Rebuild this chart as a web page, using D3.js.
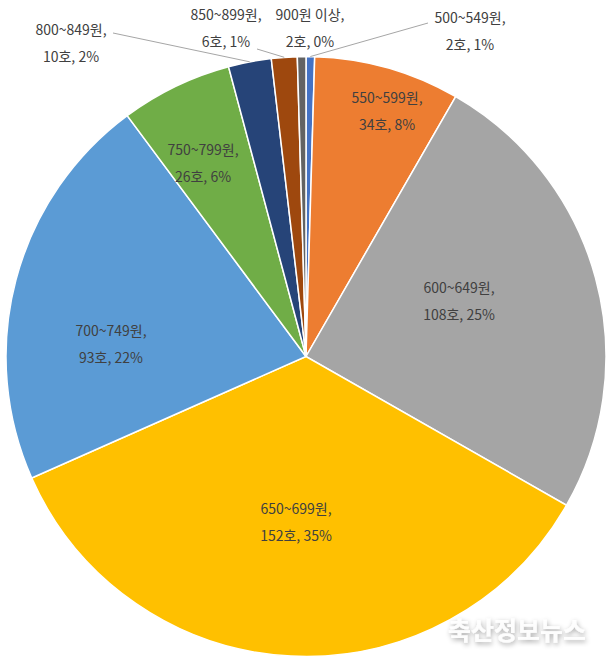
<!DOCTYPE html>
<html>
<head>
<meta charset="utf-8">
<script src="https://cdn.jsdelivr.net/npm/d3@7"></script>
<style>
  body { margin: 0; background: #fff; }
  text { font-family: "Noto Sans CJK KR", "Noto Sans", sans-serif; }
</style>
</head>
<body>
<div id="vis"></div>
<script>
const FRAME_WIDTH = 610;
const FRAME_HEIGHT = 661;
const CX = 306, CY = 356.5, RADIUS = 300;

// data
const categories = ["500~549원", "550~599원", "600~649원", "650~699원", "700~749원",
                    "750~799원", "800~849원", "850~899원", "900원 이상"];
const counts = [2, 34, 108, 152, 93, 26, 10, 6, 2];
const percentLabels = ["1%", "8%", "25%", "35%", "22%", "6%", "2%", "1%", "0%"];
const colors = ["#4472C4", "#ED7D31", "#A5A5A5", "#FFC000", "#5B9BD5",
                "#70AD47", "#264478", "#9E480E", "#636363"];

// label placement (offset of label block centre from pie centre), leader start or null
const labelOffsets = [[164, -326], [81, -246], [153, -56], [-10, 165], [-195, -13],
                      [-103, -194], [-235, -314], [-80, -329], [4, -329]];
const leaderStarts = [[428, 23], null, null, null, null, null, [113, 33], [257, 49], null];

const rows = categories.map((c, i) => ({cat: c, n: counts[i], pct: percentLabels[i], i: i}));

const svg = d3.select("#vis")
    .append("svg")
    .attr("width", FRAME_WIDTH)
    .attr("height", FRAME_HEIGHT);

const pie = d3.pie()
    .value(d => d.n)
    .sort(null);

const arc = d3.arc()
    .innerRadius(0)
    .outerRadius(RADIUS);

const arcs = pie(rows);

const g = svg.append("g")
    .attr("transform", "translate(" + CX + "," + CY + ")");

g.selectAll("path.slice")
    .data(arcs)
    .enter()
    .append("path")
    .attr("class", "slice")
    .attr("d", arc)
    .attr("fill", d => colors[d.data.i])
    .attr("stroke", "#fff")
    .attr("stroke-width", 1.5);

// leader lines
arcs.forEach(d => {
    const s = leaderStarts[d.data.i];
    if (!s) return;
    const mid = (d.startAngle + d.endAngle) / 2;
    const ex = Math.sin(mid) * RADIUS;
    const ey = -Math.cos(mid) * RADIUS;
    g.append("line")
        .attr("x1", s[0] - CX).attr("y1", s[1] - CY)
        .attr("x2", ex).attr("y2", ey)
        .attr("stroke", "#a6a6a6")
        .attr("stroke-width", 1);
});

// labels
const labels = g.selectAll("text.lbl")
    .data(arcs)
    .enter()
    .append("text")
    .attr("class", "lbl")
    .attr("text-anchor", "middle")
    .attr("font-size", "14px")
    .attr("fill", "#404040");

labels.append("tspan")
    .attr("x", d => labelOffsets[d.data.i][0])
    .attr("y", d => labelOffsets[d.data.i][1] - 13.5)
    .attr("dominant-baseline", "central")
    .text(d => d.data.cat + ",");

labels.append("tspan")
    .attr("x", d => labelOffsets[d.data.i][0])
    .attr("y", d => labelOffsets[d.data.i][1] + 13.5)
    .attr("dominant-baseline", "central")
    .text(d => d.data.n + "호, " + d.data.pct);

// watermark
const defs = svg.append("defs");
const f = defs.append("filter").attr("id", "shadow")
    .attr("x", "-20%").attr("y", "-40%").attr("width", "140%").attr("height", "180%");
f.append("feDropShadow")
    .attr("dx", 1).attr("dy", 2).attr("stdDeviation", 2.5)
    .attr("flood-color", "#000").attr("flood-opacity", 0.4);

svg.append("text")
    .attr("x", 517)
    .attr("y", 640)
    .attr("text-anchor", "middle")
    .attr("font-size", "25px")
    .attr("font-weight", "bold")
    .attr("fill", "#fff")
    .attr("fill-opacity", 0.9)
    .attr("filter", "url(#shadow)")
    .text("축산정보뉴스");
</script>
</body>
</html>
